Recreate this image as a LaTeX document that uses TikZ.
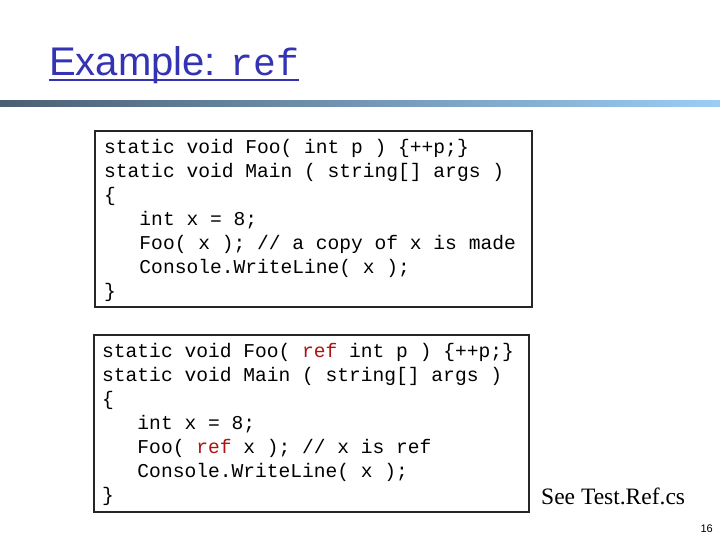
\documentclass[tikz,border=0pt]{standalone}
\usepackage{fontspec}
\setmainfont{Liberation Serif}
\setsansfont{Liberation Sans}
\setmonofont{Liberation Mono}
\usepackage{xcolor}
\definecolor{titleblue}{RGB}{51,51,179}
\definecolor{barleft}{RGB}{75,95,115}
\definecolor{barright}{RGB}{155,205,245}
\definecolor{kwred}{RGB}{170,20,20}
\newcommand{\kw}[1]{\textcolor{kwred}{#1}}
\begin{document}
\begin{tikzpicture}[x=1pt,y=-1pt]
    \tikzstyle{codebox}=[draw,line width = 1.5pt,black!85,text=black,anchor=north west,inner sep=0pt]
    \tikzstyle{code}=[anchor=north west,inner sep=0pt,font=\ttfamily\fontsize{19.6}{24}\selectfont,align=left]
    \useasboundingbox (0,0) rectangle (720,540);
    \shade[left color=barleft,right color=barright] (0,101) rectangle (720,107);
    \node[anchor=base west,inner sep=0pt,text=titleblue,font=\sffamily\fontsize{40}{44}\selectfont] (title) at (49,76) {Example: \texttt{\fontsize{38}{40}\selectfont ref}};
    \draw[titleblue,line width=2pt] (49,80) -- (299,80);
    \draw[codebox] (95,131) rectangle (532,307);
    \node[code] (one) at (104,139) {static void Foo( int p ) \{++p;\}\\
static void Main ( string[] args )\\
\{\\
\ \ \ int x = 8;\\
\ \ \ Foo( x ); // a copy of x is made\\
\ \ \ Console.WriteLine( x );\\
\}};
    \draw[codebox] (94,335) rectangle (529,512);
    \node[code] (two) at (102,343) {static void Foo( \kw{ref} int p ) \{++p;\}\\
static void Main ( string[] args )\\
\{\\
\ \ \ int x = 8;\\
\ \ \ Foo( \kw{ref} x ); // x is ref\\
\ \ \ Console.WriteLine( x );\\
\}};
    \node[anchor=base west,inner sep=0pt,font=\fontsize{23.5}{26}\selectfont] (see) at (541,504) {See Test.Ref.cs};
    \node[anchor=base east,inner sep=0pt,font=\sffamily\fontsize{11}{12}\selectfont] (page) at (713,532) {16};
\end{tikzpicture}
\end{document}
